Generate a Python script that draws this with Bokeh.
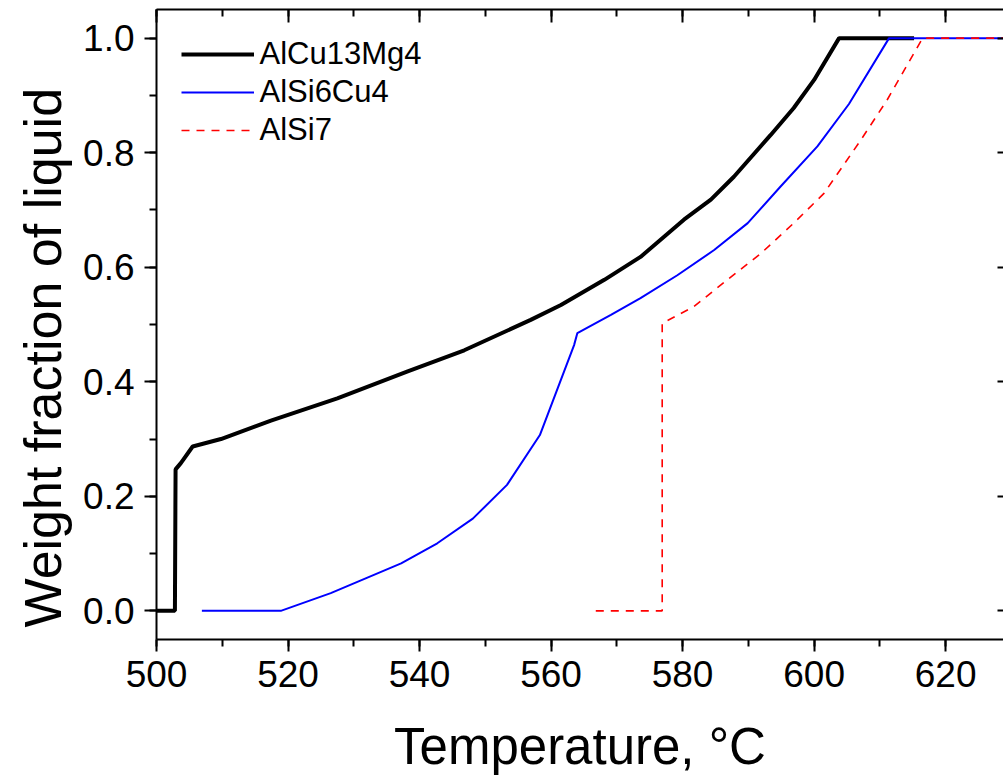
from bokeh.plotting import figure
from bokeh.models import (Range1d, LinearAxis, SingleIntervalTicker, PrintfTickFormatter,
                          Legend, LegendItem, Title)
from bokeh.embed import file_html
from bokeh.resources import INLINE

# ---- data ----
alcu_x = [500, 502.8, 502.9, 503.7, 505.5, 509.8, 517.4, 527.5, 538.2, 546.8, 556.9, 561.5,
          568.1, 573.6, 580.2, 584.3, 587.8, 593.4, 596.9, 600.0, 603.8, 615.2]
alcu_y = [0, 0, 0.247, 0.258, 0.287, 0.300, 0.332, 0.371, 0.418, 0.455, 0.508, 0.534,
          0.578, 0.618, 0.683, 0.718, 0.758, 0.831, 0.878, 0.927, 1.0, 1.0]

alsicu_x = [506.9, 518.9, 526.5, 537.2, 542.7, 548.1, 553.3, 558.3, 563.5, 564.0, 569.1,
            573.6, 579.2, 584.8, 589.9, 594.9, 600.5, 605.3, 611.4, 630]
alsicu_y = [0, 0, 0.031, 0.083, 0.118, 0.161, 0.220, 0.307, 0.464, 0.485, 0.517,
            0.546, 0.586, 0.630, 0.677, 0.741, 0.811, 0.885, 1.0, 1.0]

alsi_x = [566.8, 576.9, 576.9, 581.7, 586.8, 591.9, 596.9, 601.5, 607.1, 611.1, 616.5, 630]
alsi_y = [0, 0, 0.502, 0.531, 0.578, 0.624, 0.677, 0.729, 0.822, 0.892, 1.0, 1.0]

series_names = ["AlCu13Mg4", "AlSi6Cu4", "AlSi7"]
x_title = "Temperature, \u00b0C"
y_title = "Weight fraction of liquid"

FONT = "Liberation Sans"

p = figure(width=1003, height=781, output_backend="svg", toolbar_location=None,
           x_range=Range1d(500, 628.8), y_range=Range1d(-0.05, 1.05),
           x_axis_type=None, y_axis_type=None,
           min_border_left=156, min_border_right=0, min_border_top=9, min_border_bottom=142)
p.outline_line_color = None
p.background_fill_color = "white"
p.border_fill_color = "white"


def style_axis(ax, labels=True, out=True):
    ax.axis_line_width = 2
    ax.axis_line_color = "black"
    ax.major_tick_line_width = 2
    ax.minor_tick_line_width = 2
    ax.major_tick_line_color = "black"
    ax.minor_tick_line_color = "black"
    if out:
        ax.major_tick_out = 12
        ax.major_tick_in = 0
        ax.minor_tick_out = 7
        ax.minor_tick_in = 0
    else:
        ax.major_tick_out = 0
        ax.major_tick_in = 13
        ax.minor_tick_out = 0
        ax.minor_tick_in = 7
    if labels:
        ax.major_label_text_font = FONT
        ax.major_label_text_font_size = "37px"
        ax.major_label_text_color = "black"
    else:
        ax.major_label_text_font_size = "0px"
        ax.major_label_text_color = None
        ax.major_label_standoff = 0


xb = LinearAxis(ticker=SingleIntervalTicker(interval=20, num_minor_ticks=2))
style_axis(xb)
xb.major_label_standoff = 9
xb.axis_label = x_title
xb.axis_label_text_font = FONT
xb.axis_label_text_font_size = "51px"
xb.axis_label_text_font_style = "normal"
xb.axis_label_text_color = "black"
xb.axis_label_standoff = 28
p.add_layout(xb, "below")

yl = LinearAxis(ticker=SingleIntervalTicker(interval=0.2, num_minor_ticks=2),
                formatter=PrintfTickFormatter(format="%.1f"))
style_axis(yl)
yl.major_label_standoff = 10
p.add_layout(yl, "left")

ytitle = Title(text=y_title, align="left", offset=12, standoff=18,
               text_font=FONT, text_font_size="52px", text_font_style="normal",
               text_color="black")
p.add_layout(ytitle, "left")

xa = LinearAxis(ticker=SingleIntervalTicker(interval=20, num_minor_ticks=2))
style_axis(xa, labels=False, out=False)
p.add_layout(xa, "above")

yr = LinearAxis(ticker=SingleIntervalTicker(interval=0.2, num_minor_ticks=2))
style_axis(yr, labels=False, out=False)
yr.axis_line_color = None
yr.major_tick_in = 6
yr.minor_tick_in = 0
p.add_layout(yr, "right")

r1 = p.line(alcu_x, alcu_y, line_color="black", line_width=4)
r2 = p.line(alsicu_x, alsicu_y, line_color="#0000ff", line_width=2)
r3 = p.line(alsi_x, alsi_y, line_color="#ff0000", line_width=1.6, line_dash="8 7")

legend = Legend(items=[LegendItem(label=series_names[0], renderers=[r1]),
                       LegendItem(label=series_names[1], renderers=[r2]),
                       LegendItem(label=series_names[2], renderers=[r3])],
                location=(24.5, 490.1))
legend.border_line_color = None
legend.background_fill_alpha = 0
legend.padding = 10
legend.margin = 0
legend.spacing = 0
legend.glyph_width = 73
legend.glyph_height = 38
legend.label_height = 38
legend.label_standoff = 6
legend.label_text_font = FONT
legend.label_text_font_size = "31px"
legend.label_text_color = "black"
p.add_layout(legend)

open("out.html", "w").write(file_html(p, INLINE))
